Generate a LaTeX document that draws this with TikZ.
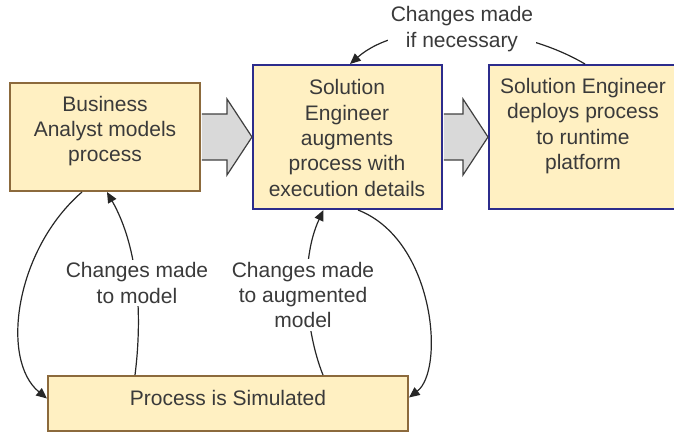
\documentclass[tikz,border=0pt]{standalone}
\usepackage{fontspec}
\setmainfont{Liberation Sans}
\usetikzlibrary{arrows.meta,calc}
\definecolor{boxfill}{HTML}{FFF0C2}
\definecolor{boxbrown}{HTML}{8C6A3C}
\definecolor{boxblue}{HTML}{2C2C8C}
\definecolor{txtgray}{HTML}{3A3A3A}
\definecolor{arrowfill}{HTML}{D9D9D9}
\definecolor{arrowline}{HTML}{404040}
\definecolor{linkcol}{HTML}{262626}

\begin{document}
\begin{tikzpicture}[x=0.75pt,y=-0.75pt,
  stepbox/.style={draw, fill=boxfill, line width=1.5pt, inner sep=0pt},
  brownbox/.style={stepbox, draw=boxbrown},
  bluebox/.style={stepbox, draw=boxblue},
  txt/.style={font=\fontsize{15.75pt}{19pt}\selectfont, text=txtgray, align=center, inner sep=0pt},
  lbl/.style={txt, fill=white, inner sep=2pt},
  link/.style={draw=linkcol, line width=0.9pt, -{Triangle[length=8pt,width=7pt]}},
  bigedge/.style={draw=arrowline, line width=0.9pt, line join=miter}]

\useasboundingbox (0,0) rectangle (674,433);
\clip (0,0) rectangle (674,433);

% process steps
\node[brownbox, minimum width=142.5pt, minimum height=81pt] (ba) at (105,137) {};
\node[bluebox, minimum width=141.75pt, minimum height=108pt] (se) at (347.5,137) {};
\node[bluebox, minimum width=141pt, minimum height=108pt] (dp) at (583,137) {};
\node[brownbox, minimum width=270pt, minimum height=41.25pt] (sim) at (228,403.5) {};

% step texts
\node[txt] (batext) at (105,131) {Business\\Analyst models\\process};
\node[txt] (setext) at (347,138) {Solution\\Engineer\\augments\\process with\\execution details};
\node[txt] (dptext) at (583,126) {Solution Engineer\\deploys process\\to runtime\\platform};
\node[txt] (simtext) at (228,398) {Process is Simulated};

% block arrows between the steps
\foreach \a/\b in {ba/se, se/dp} {
  \fill[arrowfill] ($(\a.east)+(0.8,-23)$) -- ($(\b.west)+(-25,-23)$) -- ($(\b.west)+(-25,-38)$)
    -- (\b.west) -- ($(\b.west)+(-25,38)$) -- ($(\b.west)+(-25,23)$) -- ($(\a.east)+(0.8,23)$) -- cycle;
  \draw[bigedge] ($(\a.east)+(0.8,-23)$) -- ($(\b.west)+(-25,-23)$) -- ($(\b.west)+(-25,-38)$)
    -- (\b.west) -- ($(\b.west)+(-25,38)$) -- ($(\b.west)+(-25,23)$) -- ($(\a.east)+(0.8,23)$);
}

% feedback loops
\draw[link] ($(ba.south)+(-23,0)$) .. controls (15,250) and (0,360) .. ($(sim.west)+(0,-5)$);
\draw[link] ($(sim.north)+(-93,0)$) .. controls (142,320) and (140,250) .. ($(ba.south)+(2,0)$);
\draw[link] ($(sim.north)+(95,0)$) .. controls (305,330) and (300,260) .. ($(se.south)+(-24,0)$);
\draw[link] ($(se.south)+(10.5,0)$) .. controls (435,240) and (445,370) .. ($(sim.east)+(0,-6)$);
\draw[link] ($(dp.north)+(2,0)$) .. controls (510,20) and (400,20) .. ($(se.north)+(2.5,0)$);

% loop labels
\node[lbl] (lmodel) at (137,283) {Changes made\\to model};
\node[lbl] (laug) at (303,295) {Changes made\\to augmented\\model};
\node[lbl] (lnec) at (462,29) {Changes made\\if necessary};
\end{tikzpicture}
\end{document}
